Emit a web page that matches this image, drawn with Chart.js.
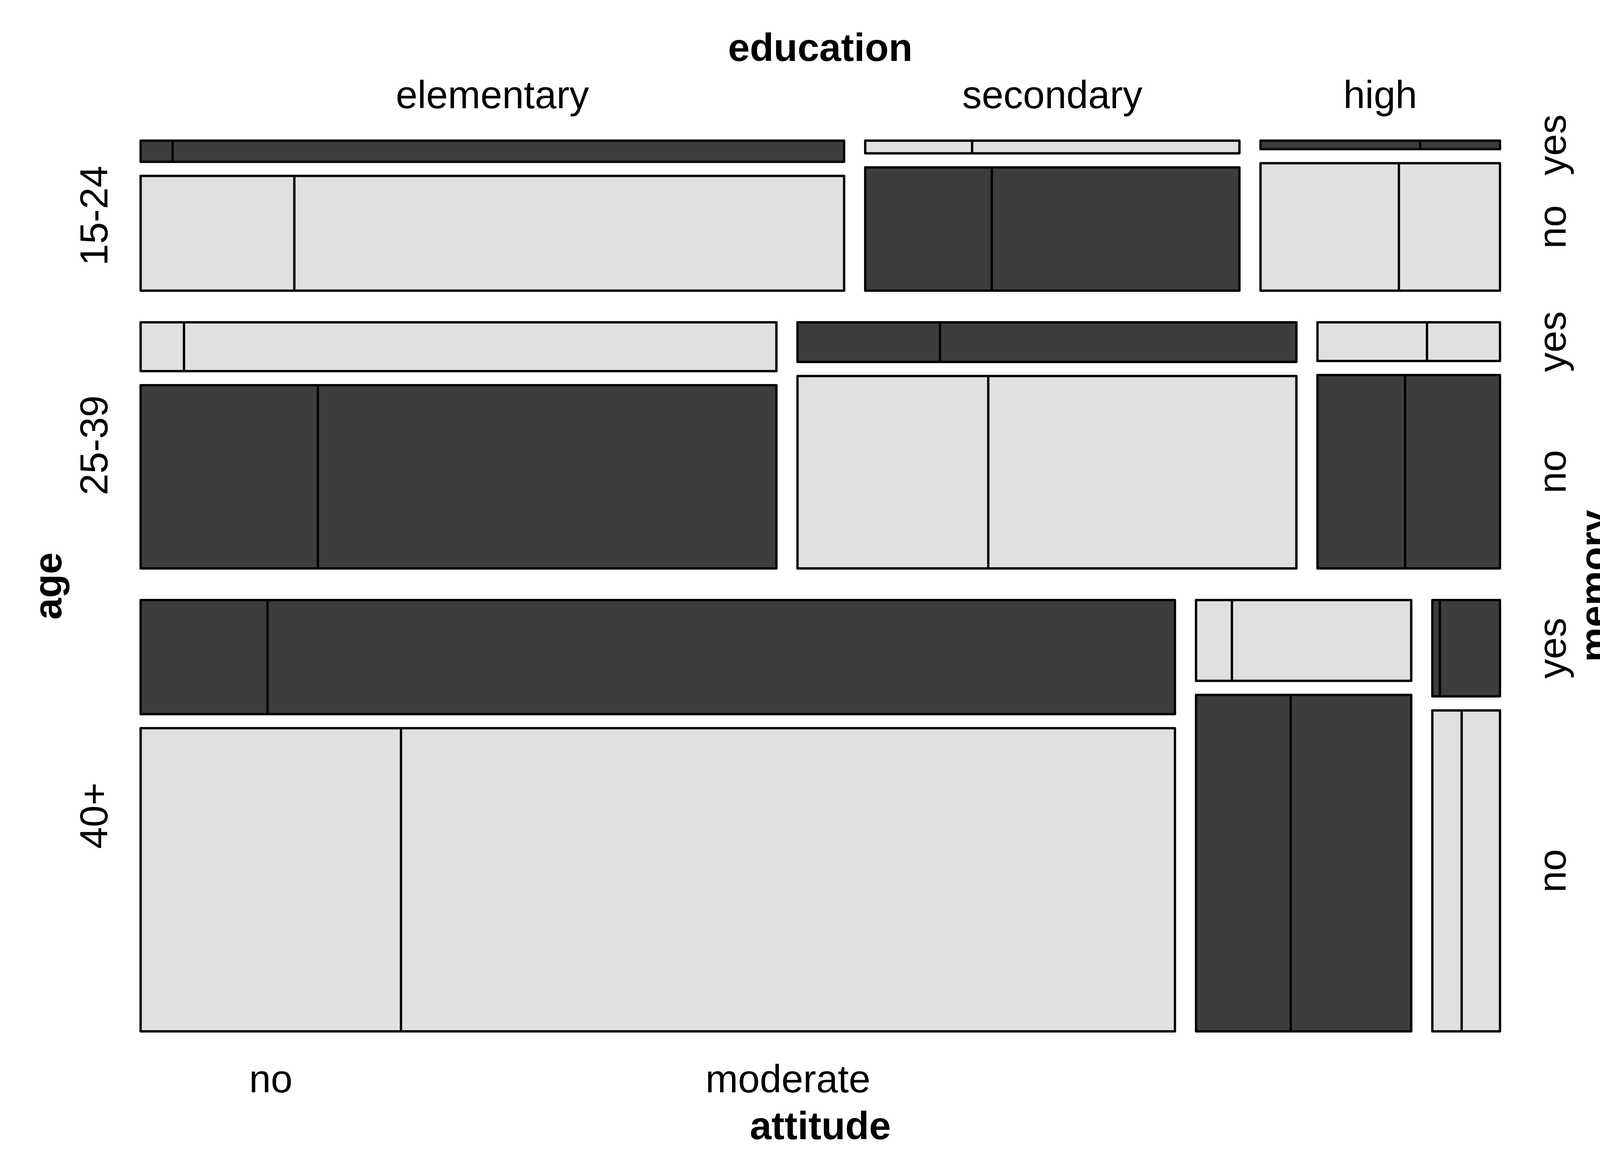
<!DOCTYPE html>
<html>
<head>
<meta charset="utf-8">
<title>Mosaico castigo</title>
<script src="https://cdn.jsdelivr.net/npm/chart.js@4"></script>
<style>
html,body{margin:0;padding:0;background:#ffffff;}
#caja{width:4200px;height:3000px;}
</style>
</head>
<body>
<div id="caja"><canvas id="chart1"></canvas></div>
<script>
var ages = ['15-24', '25-39', '40+'];
var educations = ['elementary', 'secondary', 'high'];
var memories = ['yes', 'no'];
var attitudes = ['no', 'moderate'];

// filas = age, columnas = education
var memYesAttNo       = [[1, 2, 2],    [3, 8, 6],     [20, 4, 1]];
var memYesAttModerate = [[21, 5, 1],   [41, 20, 4],   [143, 20, 8]];
var memNoAttNo        = [[26, 23, 26], [46, 52, 24],  [109, 44, 13]];
var memNoAttModerate  = [[93, 45, 19], [119, 84, 26], [324, 56, 17]];

var W = 3480, H = 2280;
var gapAge = 81, gapEdu = 54, gapMem = 36;
var oscuro = '#3d3d3d', claro = '#e0e0e0';
var fuente = '"Liberation Sans", Arial, Helvetica, sans-serif';

function freq(a, e, m, t){
	var tab;
	if (m == 0) tab = (t == 0) ? memYesAttNo : memYesAttModerate;
	else tab = (t == 0) ? memNoAttNo : memNoAttModerate;
	return tab[a][e];
}

var teselas = [];
var centrosEdu = [], centrosAge = [], centrosMem = [], centrosAtt = [];

function calcular(){
	var N = 0, totAge = [], totCell = [], totMem = [];
	for (var a = 0; a < ages.length; a++){
		totAge[a] = 0; totCell[a] = []; totMem[a] = [];
		for (var e = 0; e < educations.length; e++){
			totCell[a][e] = 0; totMem[a][e] = [];
			for (var m = 0; m < memories.length; m++){
				totMem[a][e][m] = 0;
				for (var t = 0; t < attitudes.length; t++){
					var f = freq(a, e, m, t);
					totMem[a][e][m] += f; totCell[a][e] += f; totAge[a] += f; N += f;
				}
			}
		}
	}

	var altoUtil = H - gapAge * (ages.length - 1);
	var anchoUtil = W - gapEdu * (educations.length - 1);
	var y = 0;
	for (var a = 0; a < ages.length; a++){
		var hRow = altoUtil * totAge[a] / N;
		centrosAge.push(y + hRow / 2);
		var x = 0;
		for (var e = 0; e < educations.length; e++){
			var wCell = anchoUtil * totCell[a][e] / totAge[a];
			if (a == 0) centrosEdu.push(x + wCell / 2);
			var altoCell = hRow - gapMem * (memories.length - 1);
			var ym = y;
			for (var m = 0; m < memories.length; m++){
				var hMem = altoCell * totMem[a][e][m] / totCell[a][e];
				if (e == educations.length - 1) centrosMem.push({texto: memories[m], y: ym + hMem / 2});
				var xt = x;
				for (var t = 0; t < attitudes.length; t++){
					var wT = wCell * freq(a, e, m, t) / totMem[a][e][m];
					if (a == ages.length - 1 && e == 0 && m == memories.length - 1) centrosAtt.push(xt + wT / 2);
					teselas.push({x0: xt, x1: xt + wT, y0: ym, y1: ym + hMem,
						color: ((a + e + m) % 2 == 0) ? oscuro : claro});
					xt += wT;
				}
				ym += hMem + gapMem;
			}
			x += wCell + gapEdu;
		}
		y += hRow + gapAge;
	}
}

function textoVertical(ctx, txt, px, py){
	ctx.save();
	ctx.translate(px, py);
	ctx.rotate(-Math.PI / 2);
	ctx.fillText(txt, 0, 0);
	ctx.restore();
}

var etiquetas = {
	id: 'etiquetas',
	afterDraw: function(chart){
		var ctx = chart.ctx, sx = chart.scales.x, sy = chart.scales.y, area = chart.chartArea;
		var cx = (area.left + area.right) / 2, cy = (area.top + area.bottom) / 2;
		ctx.save();
		ctx.fillStyle = '#000000';
		ctx.textAlign = 'center';
		ctx.textBaseline = 'alphabetic';

		ctx.font = 'bold 100px ' + fuente;
		ctx.fillText('education', cx, area.top - 204);
		ctx.fillText('attitude', cx, area.bottom + 276);
		textoVertical(ctx, 'age', area.left - 203, cy);
		textoVertical(ctx, 'memory', area.right + 275, cy);

		ctx.font = '100px ' + fuente;
		for (var i = 0; i < educations.length; i++){
			ctx.fillText(educations[i], sx.getPixelForValue(centrosEdu[i]), area.top - 83);
		}
		for (var i = 0; i < attitudes.length; i++){
			ctx.fillText(attitudes[i], sx.getPixelForValue(centrosAtt[i]), area.bottom + 156);
		}
		for (var i = 0; i < ages.length; i++){
			textoVertical(ctx, ages[i], area.left - 85, sy.getPixelForValue(centrosAge[i]));
		}
		for (var i = 0; i < centrosMem.length; i++){
			textoVertical(ctx, centrosMem[i].texto, area.right + 168, sy.getPixelForValue(centrosMem[i].y));
		}
		ctx.restore();
	}
};

function init(){
	calcular();

	var contorno = [];
	for (var i = 0; i < teselas.length; i++){
		var r = teselas[i];
		contorno.push({x: r.x0, y: r.y0}, {x: r.x1, y: r.y0}, {x: r.x1, y: r.y1},
			{x: r.x0, y: r.y1}, {x: r.x0, y: r.y0}, {x: r.x0, y: null});
	}

	var datasets = [{
		data: contorno,
		borderColor: '#000000',
		borderWidth: 6,
		borderJoinStyle: 'round',
		borderCapStyle: 'round',
		fill: false,
		pointRadius: 0,
		spanGaps: false,
		clip: false
	}];

	for (var i = 0; i < teselas.length; i++){
		var r = teselas[i];
		datasets.push({
			data: [{x: r.x0, y: r.y0}, {x: r.x1, y: r.y0}],
			fill: {value: r.y1},
			backgroundColor: r.color,
			borderColor: 'rgba(0,0,0,0)',
			borderWidth: 0,
			pointRadius: 0,
			clip: false
		});
	}

	var canvas = document.getElementById('chart1').getContext('2d');
	window.mosaico = new Chart(canvas, {
		type: 'line',
		data: {datasets: datasets},
		options: {
			responsive: true,
			maintainAspectRatio: false,
			devicePixelRatio: 1,
			animation: false,
			events: [],
			layout: {padding: {left: 360, right: 360, top: 360, bottom: 360}},
			plugins: {legend: {display: false}, tooltip: {enabled: false}},
			scales: {
				x: {type: 'linear', min: 0, max: W, display: false},
				y: {type: 'linear', min: 0, max: H, reverse: true, display: false}
			}
		},
		plugins: [etiquetas]
	});
}

init();
</script>
</body>
</html>
